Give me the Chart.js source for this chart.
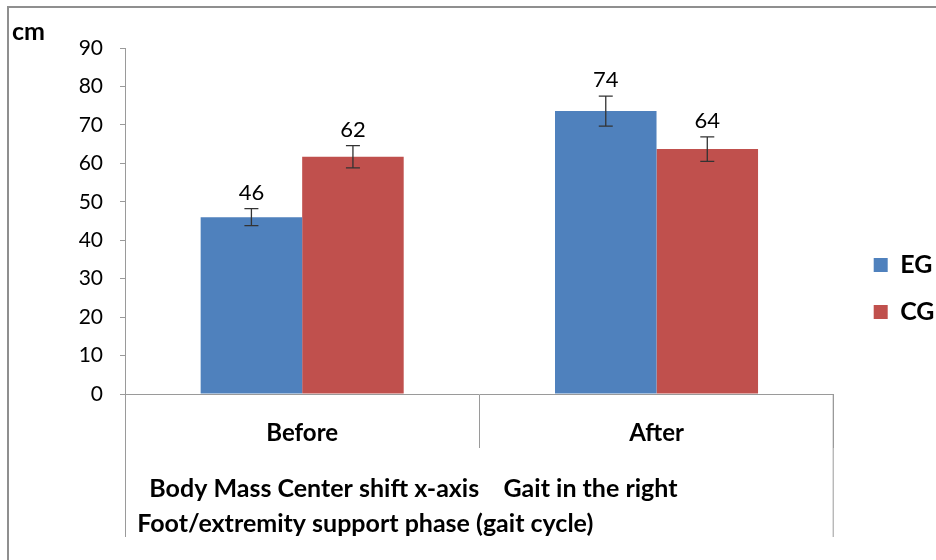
<!DOCTYPE html>
<html>
<head>
<meta charset="utf-8">
<script src="https://cdn.jsdelivr.net/npm/chart.js@4"></script>
<style>
  html, body { margin: 0; padding: 0; background: #fff; }
  #wrap { width: 936px; height: 560px; }
</style>
</head>
<body>
<div id="wrap"><canvas id="barChart"></canvas></div>
<script>
const categories = ['Before', 'After'];
const seriesNames = ['EG', 'CG'];
const egValues = [46, 73.6];
const cgValues = [61.7, 63.7];
const egErrors = [2.2, 3.9];
const cgErrors = [2.9, 3.2];
const yTicks = [0, 10, 20, 30, 40, 50, 60, 70, 80, 90];
const xTitle = ['    Body Mass Center shift x-axis    Gait in the right',
                '  Foot/extremity support phase (gait cycle)'];

const lineGray = '#9a9a9a';
const FONT = 'Lato';

// error bars, value labels and the frame lines
const extras = {
    id: 'extras',
    afterLayout(chart) {
        chart.legend.left += 18;   //push legend items away from plot
        chart.legend.right += 18;
    },
    afterDatasetsDraw(chart) {
        const {ctx, scales: {y}} = chart;
        const errs = [egErrors, cgErrors];
        ctx.save();
        chart.data.datasets.forEach((ds, di) => {
            const meta = chart.getDatasetMeta(di);
            meta.data.forEach((bar, i) => {
                const v = ds.data[i];
                const top = y.getPixelForValue(v + errs[di][i]);
                const bot = y.getPixelForValue(v - errs[di][i]);
                ctx.strokeStyle = '#333';
                ctx.lineWidth = 1.3;
                ctx.beginPath();
                ctx.moveTo(bar.x, top); ctx.lineTo(bar.x, bot);
                ctx.moveTo(bar.x - 7, top); ctx.lineTo(bar.x + 7, top);
                ctx.moveTo(bar.x - 7, bot); ctx.lineTo(bar.x + 7, bot);
                ctx.stroke();
                ctx.fillStyle = '#000';
                ctx.font = `22px ${FONT}`;
                ctx.textAlign = 'center';
                ctx.textBaseline = 'alphabetic';
                ctx.fillText(Math.round(v), bar.x, top - 9);
            });
        });
        ctx.restore();
    },
    afterDraw(chart) {
        const {ctx, chartArea} = chart;
        ctx.save();
        ctx.strokeStyle = lineGray;
        ctx.lineWidth = 1;
        ctx.beginPath();
        ctx.moveTo(chartArea.left + 0.5, chartArea.bottom);
        ctx.lineTo(chartArea.left + 0.5, chartArea.bottom + 143);
        ctx.moveTo(chartArea.right - 0.5, chartArea.bottom);
        ctx.lineTo(chartArea.right - 0.5, chartArea.bottom + 143);
        ctx.stroke();
        // outer frame (only top and left visible)
        ctx.strokeStyle = '#8f8f8f';
        ctx.lineWidth = 2;
        ctx.beginPath();
        ctx.moveTo(936, 7);
        ctx.lineTo(8, 7);
        ctx.lineTo(8, 560);
        ctx.stroke();
        ctx.restore();
    }
};

const barChart = new Chart(document.getElementById('barChart'), {
    type: 'bar',
    data: {
        labels: categories,
        datasets: [
            {
                label: seriesNames[0],
                data: egValues,
                backgroundColor: '#4f81bd',
                categoryPercentage: 0.573,
                barPercentage: 1
            },
            {
                label: seriesNames[1],
                data: cgValues,
                backgroundColor: '#c0504d',
                categoryPercentage: 0.573,
                barPercentage: 1
            }
        ]
    },
    options: {
        responsive: true,
        maintainAspectRatio: false,
        animation: false,
        layout: {
            padding: {top: 17, left: 12, right: 9.5, bottom: 0}
        },
        scales: {
            x: {
                grid: {
                    offset: true,
                    drawOnChartArea: false,
                    tickLength: 54,
                    color: lineGray
                },
                border: {color: lineGray},
                ticks: {
                    color: '#000',
                    padding: -29,
                    font: {family: FONT, size: 24, weight: 'bold'}
                },
                title: {
                    display: true,
                    align: 'start',
                    text: xTitle,
                    color: '#000',
                    font: {family: FONT, size: 25, weight: 'bold', lineHeight: '35px'},
                    padding: {top: 0, bottom: 19}
                },
                afterFit: s => { s.height = 166; }
            },
            y: {
                min: yTicks[0],
                max: yTicks[yTicks.length - 1],
                ticks: {
                    stepSize: yTicks[1] - yTicks[0],
                    color: '#000',
                    padding: 17,
                    font: {family: FONT, size: 21}
                },
                grid: {
                    drawOnChartArea: false,
                    tickLength: 5,
                    color: lineGray
                },
                border: {color: lineGray},
                afterFit: s => { s.width = 113; }
            }
        },
        plugins: {
            title: {
                display: true,
                text: 'cm',
                align: 'start',
                color: '#000',
                font: {family: FONT, size: 25, weight: 'bold'},
                padding: {top: 0, bottom: 1}
            },
            legend: {
                position: 'right',
                labels: {
                    boxWidth: 14,
                    boxHeight: 14,
                    padding: 22,
                    color: '#000',
                    font: {family: FONT, size: 25, weight: 'bold'}
                }
            },
            tooltip: {enabled: false}
        }
    },
    plugins: [extras]
});
</script>
</body>
</html>
